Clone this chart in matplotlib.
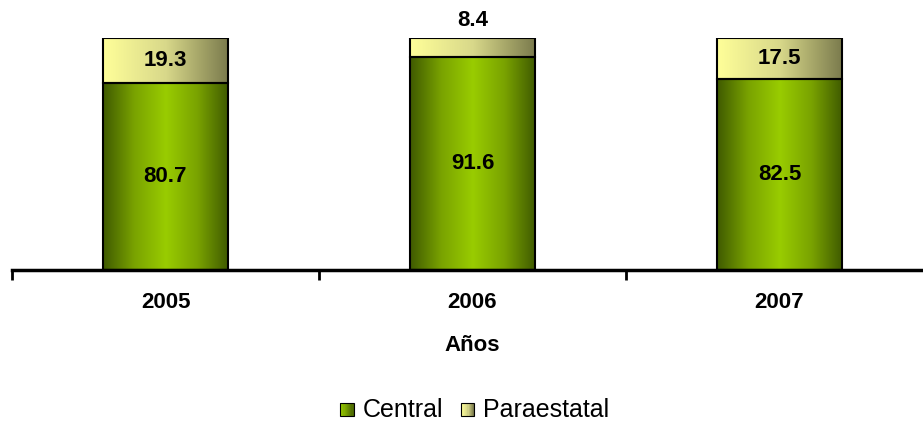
import matplotlib.pyplot as plt
import numpy as np
from matplotlib.colors import LinearSegmentedColormap
from matplotlib.patches import Rectangle
from matplotlib.legend_handler import HandlerBase

plt.rcParams['font.family'] = ['Liberation Sans', 'DejaVu Sans']

years = ['2005', '2006', '2007']
central = [80.7, 91.6, 82.5]
paraestatal = [19.3, 8.4, 17.5]

# colour ramps, left -> right across each bar
cmap_central = LinearSegmentedColormap.from_list(
    'central', ['#3f5a00', '#7aa300', '#99cc00', '#7aa300', '#3f5a00'])
cmap_para = LinearSegmentedColormap.from_list(
    'para', ['#ffff99', '#d8d88a', '#7a7a4c'])

fig = plt.figure(figsize=(9.23, 4.24), dpi=100)
ax = fig.add_axes([12/923, 1 - 270/424, 921/923, 232/424])

x = np.arange(len(years))
w = 0.41
grad = np.linspace(0, 1, 256).reshape(1, -1)

for i in range(len(years)):
    x0 = x[i] - w/2
    x1 = x[i] + w/2
    c = central[i]
    p = paraestatal[i]
    ax.imshow(grad, cmap=cmap_central, extent=[x0, x1, 0, c],
              aspect='auto', interpolation='bilinear', zorder=2)
    ax.imshow(grad, cmap=cmap_para, extent=[x0, x1, c, c + p],
              aspect='auto', interpolation='bilinear', zorder=2)
    ax.add_patch(Rectangle((x0, 0), w, c, fill=False, ec='black', lw=1.5, zorder=3))
    ax.add_patch(Rectangle((x0, c), w, p, fill=False, ec='black', lw=1.5, zorder=3))
    ax.text(x[i], c/2, f'{c:.1f}', ha='center', va='center',
            fontsize=16, fontweight='bold', zorder=4)
    if p > 12:
        ax.text(x[i], c + p/2, f'{p:.1f}', ha='center', va='center',
                fontsize=16, fontweight='bold', zorder=4)
    else:
        ax.text(x[i], c + p + 3, f'{p:.1f}', ha='center', va='bottom',
                fontsize=16, fontweight='bold', zorder=4, clip_on=False)

ax.set_xlim(-0.5, 2.5)
ax.set_ylim(0, 100)
for s in ['top', 'right', 'left']:
    ax.spines[s].set_visible(False)
ax.spines['bottom'].set_linewidth(2.5)
ax.set_yticks([])
ax.set_xticks([-0.5, 0.5, 1.5, 2.5])
ax.set_xticklabels([])
ax.tick_params(axis='x', length=7, width=2)
ax.set_xticks(x, minor=True)
ax.set_xticklabels(years, minor=True, fontsize=16, fontweight='bold')
ax.tick_params(axis='x', which='minor', length=0, pad=16)
ax.set_xlabel('Años', fontsize=16, fontweight='bold', labelpad=16)


class GradHandler(HandlerBase):
    def __init__(self, cmap):
        super().__init__()
        self.cmap = cmap

    def create_artists(self, legend, orig_handle, xdescent, ydescent,
                       width, height, fontsize, trans):
        n = 12
        arts = []
        sz = height * 0.78
        y0 = -ydescent + (height - sz) / 2 - 1
        xs = -xdescent + width - sz
        for k in range(n):
            r = Rectangle((xs + k*sz/n, y0), sz/n, sz,
                          fc=self.cmap(k/(n-1)), ec='none', transform=trans)
            arts.append(r)
        arts.append(Rectangle((xs, y0), sz, sz,
                              fill=False, ec='black', lw=0.8, transform=trans))
        return arts


cmap_leg_c = LinearSegmentedColormap.from_list('lc', ['#99cc00', '#4a6600'])
h1 = Rectangle((0, 0), 1, 1)
h2 = Rectangle((0, 0), 1, 1)
fig.legend([h1, h2], ['Central', 'Paraestatal'],
           handler_map={h1: GradHandler(cmap_leg_c), h2: GradHandler(cmap_para)},
           loc='center', bbox_to_anchor=(472/923, 1 - 410/424), ncol=2, frameon=False,
           fontsize=18, handlelength=0.75, handletextpad=0.35, columnspacing=0.5)

fig.savefig('out.png', dpi=100)
